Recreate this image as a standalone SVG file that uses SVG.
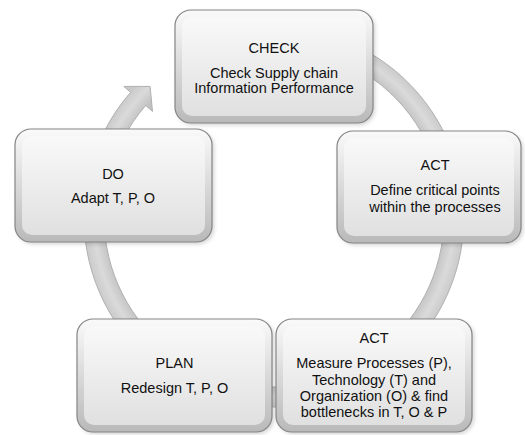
<svg xmlns="http://www.w3.org/2000/svg" width="525" height="435" viewBox="0 0 525 435">
<style>
.t{font-family:"Liberation Sans",Arial,sans-serif;font-size:14.5px;fill:#111;text-anchor:middle}
.outer{fill:url(#og);stroke:#858585;stroke-width:1.2}
.inner{fill:url(#ig)}
.shadow{fill:#000;opacity:0.18;filter:url(#blur)}
.ring{fill:url(#rg);stroke:#b0b0b0;stroke-width:1}
</style>
<defs>
<linearGradient id="og" x1="0" y1="0" x2="0" y2="1">
<stop offset="0" stop-color="#fafafa"/>
<stop offset="1" stop-color="#b9b9b9"/>
</linearGradient>
<linearGradient id="ig" x1="0" y1="0" x2="0" y2="1">
<stop offset="0" stop-color="#f9f9f9"/>
<stop offset="1" stop-color="#e0e0e0"/>
</linearGradient>
<radialGradient id="rg" cx="274" cy="217" r="200" gradientUnits="userSpaceOnUse">
<stop offset="0.84" stop-color="#c2c2c2"/>
<stop offset="0.9" stop-color="#dadada"/>
<stop offset="0.96" stop-color="#c8c8c8"/>
</radialGradient>
<filter id="blur" x="-10%" y="-10%" width="120%" height="120%">
<feGaussianBlur stdDeviation="2"/>
</filter>
</defs>
<rect width="525" height="435" fill="#fff"/>
<g id="connectors">
<path class="ring" d="M224.8,33.5 A190,190 0 1 1 130.6,92.3 L123.8,86.4 L150.1,86.4 L152.5,111.4 L145.7,105.5 A170,170 0 1 0 230,52.8 Z"/>
</g>
<g id="node-check">
<rect class="shadow" x="177" y="12" width="198" height="113" rx="16"/>
<rect class="outer" x="175" y="10" width="198" height="113" rx="16"/>
<rect class="inner" x="182" y="17" width="184" height="99" rx="10"/>
<text class="t" x="274" y="53">CHECK</text>
<text class="t" x="274" y="77.5">Check Supply chain</text>
<text class="t" x="274" y="93">Information Performance</text>
</g>
<g id="node-act-right">
<rect class="shadow" x="339" y="133" width="184" height="112" rx="16"/>
<rect class="outer" x="337" y="131" width="184" height="112" rx="16"/>
<rect class="inner" x="344" y="138" width="170" height="98" rx="10"/>
<text class="t" x="435" y="170">ACT</text>
<text class="t" x="435" y="195">Define critical points</text>
<text class="t" x="435" y="211.5">within the processes</text>
</g>
<g id="node-do">
<rect class="shadow" x="17" y="131" width="197" height="113" rx="16"/>
<rect class="outer" x="15" y="129" width="197" height="113" rx="16"/>
<rect class="inner" x="22" y="136" width="183" height="99" rx="10"/>
<text class="t" x="113" y="179">DO</text>
<text class="t" x="113" y="202.5">Adapt T, P, O</text>
</g>
<g id="node-plan">
<rect class="shadow" x="79" y="321" width="195" height="113" rx="16"/>
<rect class="outer" x="77" y="319" width="195" height="113" rx="16"/>
<rect class="inner" x="84" y="326" width="181" height="99" rx="10"/>
<text class="t" x="174.5" y="368">PLAN</text>
<text class="t" x="174.5" y="392.5">Redesign T, P, O</text>
</g>
<g id="node-act-bottom">
<rect class="shadow" x="278" y="321" width="196" height="113" rx="16"/>
<rect class="outer" x="276" y="319" width="196" height="113" rx="16"/>
<rect class="inner" x="283" y="326" width="182" height="99" rx="10"/>
<text class="t" x="374" y="342.5">ACT</text>
<text class="t" x="374" y="368">Measure Processes (P),</text>
<text class="t" x="374" y="385">Technology (T) and</text>
<text class="t" x="374" y="401">Organization (O) &amp; find</text>
<text class="t" x="374" y="417">bottlenecks in T, O &amp; P</text>
</g>
</svg>
